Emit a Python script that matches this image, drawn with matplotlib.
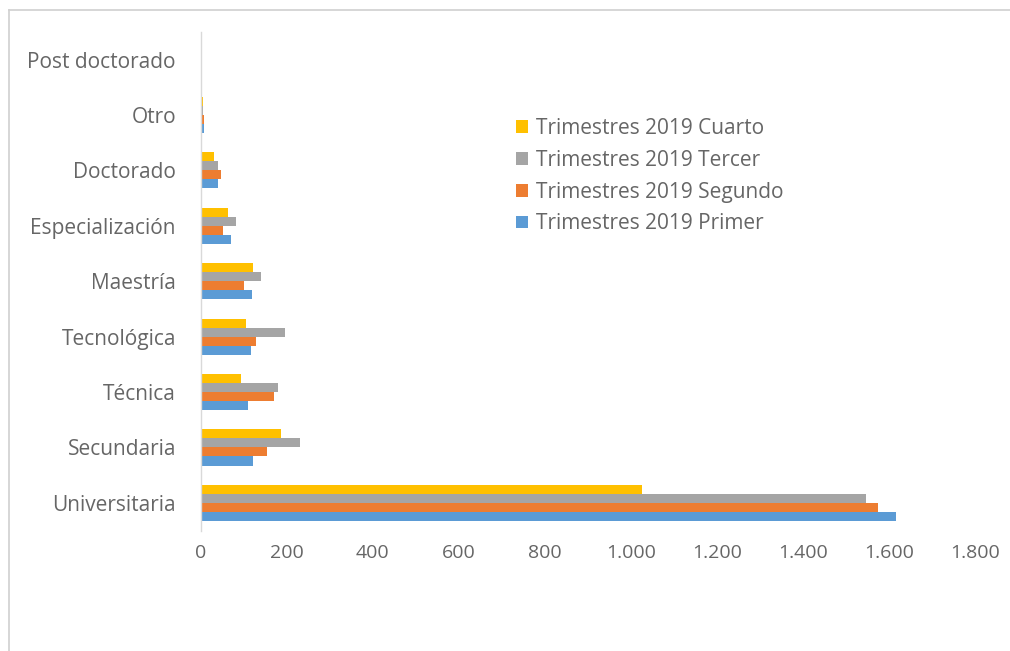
import numpy as np
import matplotlib
matplotlib.use("Agg")
import matplotlib.pyplot as plt
from matplotlib.ticker import FuncFormatter
from matplotlib.lines import Line2D

# nivel educativo, de abajo hacia arriba
categorias = ["Universitaria", "Secundaria", "Técnica", "Tecnológica", "Maestría",
              "Especialización", "Doctorado", "Otro", "Post doctorado"]

primer = [1616, 122, 110, 116, 119, 69, 40, 6, 0]
segundo = [1574, 153, 171, 128, 101, 52, 46, 6, 0]
tercer = [1547, 230, 180, 195, 139, 81, 40, 5, 0]
cuarto = [1026, 185, 92, 105, 120, 64, 30, 4, 0]

series = [
    ("Trimestres 2019 Primer", primer, "#5B9BD5"),
    ("Trimestres 2019 Segundo", segundo, "#ED7D31"),
    ("Trimestres 2019 Tercer", tercer, "#A5A5A5"),
    ("Trimestres 2019 Cuarto", cuarto, "#FFC000"),
]

plt.rcParams["font.family"] = ["Open Sans", "DejaVu Sans"]
gris = "#666666"

fig = plt.figure(figsize=(10.10, 6.51), dpi=100)
ax = fig.add_axes([0.199, 0.185, 0.766, 0.766])

y = np.arange(len(categorias))
h = 0.163
for k, (nombre, vals, color) in enumerate(series):
    ax.barh(y + (k - 1.5) * h, vals, height=h, color=color, label=nombre)

ax.set_xlim(0, 1800)
ax.set_ylim(-0.5, len(categorias) - 0.5)
ax.set_xticks(np.arange(0, 1801, 200))
ax.xaxis.set_major_formatter(FuncFormatter(lambda v, p: f"{int(v):,}".replace(",", ".")))
ax.set_yticks(y)
ax.set_yticklabels(categorias)
ax.tick_params(axis="both", length=0, labelcolor=gris)
ax.tick_params(axis="x", pad=10, labelsize=14)
ax.tick_params(axis="y", pad=18, labelsize=15)

for s in ["top", "right", "bottom"]:
    ax.spines[s].set_visible(False)
ax.spines["left"].set_color("#D9D9D9")
ax.spines["left"].set_linewidth(1)
ax.set_axisbelow(True)

handles, labels = ax.get_legend_handles_labels()
ax.legend(handles[::-1], labels[::-1], loc="upper left", bbox_to_anchor=(0.383, 0.865),
          frameon=False, fontsize=15, labelcolor=gris, handlelength=0.55, handleheight=0.55,
          handletextpad=0.4, labelspacing=0.52)

# marco exterior del gráfico
fig.add_artist(Line2D([0.009, 1.0], [0.985, 0.985], color="#D0D0D0", lw=1.2))
fig.add_artist(Line2D([0.009, 0.009], [0.0, 0.985], color="#D0D0D0", lw=1.2))

fig.savefig("out.png", dpi=100, facecolor="white")
